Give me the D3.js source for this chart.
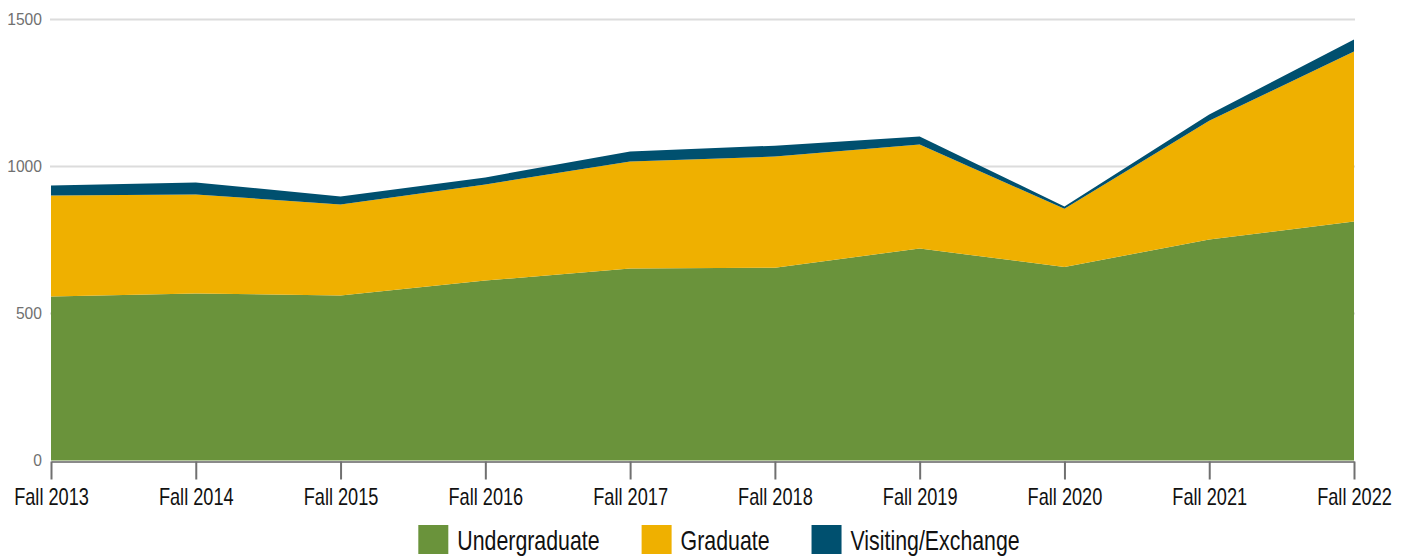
<!DOCTYPE html>
<html>
<head>
<meta charset="utf-8">
<script src="https://cdn.jsdelivr.net/npm/d3@7"></script>
<style>
  body { margin: 0; background: #fff; }
  svg { display: block; }
</style>
</head>
<body>
<div id="chart"></div>
<script>
var width = 1407, height = 557;

var terms = ["Fall 2013", "Fall 2014", "Fall 2015", "Fall 2016", "Fall 2017",
             "Fall 2018", "Fall 2019", "Fall 2020", "Fall 2021", "Fall 2022"]
var undergraduate = [558, 568, 561, 612, 653, 656, 721, 658, 752, 813]
var graduate      = [343, 337, 310, 327, 364, 378, 354, 198, 404, 578]
var visiting      = [34, 41, 27, 24, 34, 37, 27, 8, 21, 41]
var yTicks = [0, 500, 1000, 1500]

var seriesNames = ["Undergraduate", "Graduate", "Visiting/Exchange"]
var colors = ["#6a933b", "#efb000", "#00506f"]

// condensed look: Liberation Sans squeezed horizontally
var condensed = 0.79

// build rows for the stack
var rows = []
for (var i = 0; i < terms.length; i++)
    rows.push({term: terms[i], "Undergraduate": undergraduate[i], "Graduate": graduate[i], "Visiting/Exchange": visiting[i]})

var stacked = d3.stack().keys(seriesNames)(rows)

var svg = d3.select("#chart").append("svg")
    .attr("width", width)
    .attr("height", height)

//Set scales
var xScale = d3.scalePoint().domain(terms).range([51, 1354])
var yScale = d3.scaleLinear().domain([0, 1500]).range([460.5, 19.5])

//Gridlines
svg.append("g")
    .selectAll("line")
    .data(yTicks.filter(d => d > 0))
    .enter().append("line")
    .attr("x1", 50)
    .attr("x2", 1355)
    .attr("y1", d => yScale(d))
    .attr("y2", d => yScale(d))
    .attr("stroke", "#dcdcdc")
    .attr("stroke-width", 2)

//Areas
var area = d3.area()
    .x(d => xScale(d.data.term))
    .y0(d => yScale(d[0]))
    .y1(d => yScale(d[1]))

svg.append("g")
    .selectAll("path")
    .data(stacked)
    .enter().append("path")
    .attr("fill", (d, i) => colors[i])
    .attr("d", area)

//Y axis labels
var yAxis = svg.append("g")
    .attr("transform", "translate(44,0)")
    .call(d3.axisLeft(yScale).tickValues(yTicks).tickFormat(d3.format("d")).tickSize(0).tickPadding(2))
yAxis.select(".domain").remove()
yAxis.selectAll("text")
    .style("font-family", "'Liberation Sans', Arial, sans-serif")
    .style("font-size", "17px")
    .attr("fill", "#707070")
    .attr("transform", "scale(0.92,1)")
    .attr("x", -2 / 0.92)

//X axis
var xAxis = svg.append("g")
    .attr("transform", "translate(0,461.5)")
    .call(d3.axisBottom(xScale).tickSizeOuter(0).tickSizeInner(18))
xAxis.select(".domain")
    .attr("stroke", "#8a8a8a")
    .attr("stroke-width", 2)
xAxis.selectAll(".tick line")
    .attr("stroke", "#707070")
    .attr("stroke-width", 2)
xAxis.selectAll("text")
    .style("font-family", "'Liberation Sans', Arial, sans-serif")
    .style("font-size", "23px")
    .attr("fill", "#111")
    .attr("dy", null)
    .attr("y", 44)
    .attr("transform", "scale(" + condensed + ",1)")

//Legend
var gap = 42
var legend = svg.append("g")
var x = 0
for (var i = 0; i < seriesNames.length; i++) {
    var g = legend.append("g")
    g.append("rect")
        .attr("width", 30)
        .attr("height", 29)
        .attr("y", 525)
        .attr("fill", colors[i])
    var t = g.append("text")
        .attr("transform", "translate(39,550) scale(" + condensed + ",1)")
        .style("font-family", "'Liberation Sans', Arial, sans-serif")
        .style("font-size", "27px")
        .attr("fill", "#111")
        .text(seriesNames[i])
    g.attr("transform", "translate(" + x + ",0)")
    x += 39 + t.node().getComputedTextLength() * condensed + gap
}
var legendWidth = x - gap
legend.attr("transform", "translate(" + (719 - legendWidth / 2) + ",0)")
</script>
</body>
</html>
